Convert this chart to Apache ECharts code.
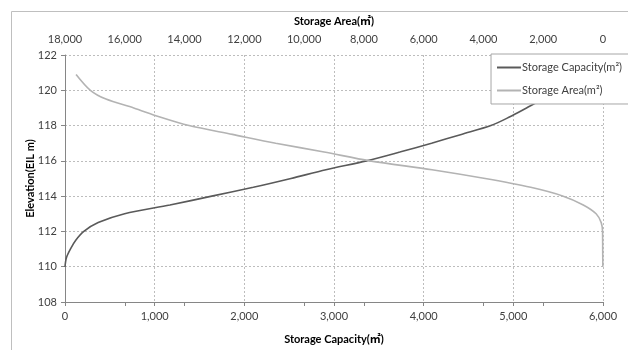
<!DOCTYPE html>
<html>
<head>
<meta charset="utf-8">
<script src="https://cdn.jsdelivr.net/npm/echarts@6/dist/echarts.min.js"></script>
<style>
  html, body { margin: 0; padding: 0; background: #fff; }
  #chart { width: 628px; height: 350px; }
</style>
</head>
<body>
<div id="chart"></div>
<script>
  // elevation (EL m) for each reading
  let capElev = [110, 110.5, 111, 111.5, 112, 112.5, 113, 113.5, 114, 114.5, 115, 115.5, 116, 116.5, 117, 117.5, 118, 118.5, 119, 119.5, 120, 120.5, 121];
  let capacity = [0, 15, 60, 120, 210, 370, 665, 1170, 1637, 2100, 2520, 2910, 3362, 3734, 4088, 4420, 4750, 4962, 5147, 5330, 5500, 5660, 5820];

  let areaElev = [110, 110.5, 111, 111.5, 112, 112.5, 113, 113.5, 114, 114.5, 115, 115.5, 116, 116.5, 117, 117.5, 118, 118.5, 119, 119.5, 120, 120.9];
  let area = [5, 8, 10, 12, 15, 60, 230, 660, 1330, 2420, 3940, 5720, 7800, 9330, 10950, 12400, 13850, 14850, 15700, 16630, 17150, 17630];

  let font = 'Lato, "Noto Sans", "Noto Sans CJK SC", sans-serif';
  let fmt = function (v) { return v.toLocaleString('en-US'); };

  let capData = [];
  for (let i = 0; i < capElev.length; i++) {
    capData.push([capacity[i], capElev[i]]);
  }
  let areaData = [];
  for (let i = 0; i < areaElev.length; i++) {
    areaData.push([area[i], areaElev[i]]);
  }

  let myChart = echarts.init(document.getElementById('chart'));
  myChart.setOption({
    animation: false,
    textStyle: { fontFamily: font },
    graphic: [{
      type: 'rect',
      shape: { x: 11.5, y: 11.5, width: 700, height: 400 },
      style: { fill: 'none', stroke: '#bfbfbf', lineWidth: 1 },
      silent: true,
      z: -1
    }],
    grid: { left: 65, right: 25, top: 55, bottom: 40 },
    legend: {
      orient: 'vertical',
      right: -2,
      top: 54,
      padding: [8, 8, 8, 6],
      itemGap: 12,
      itemWidth: 24,
      itemHeight: 2,
      icon: 'rect',
      backgroundColor: '#fff',
      borderColor: '#a6a6a6',
      borderWidth: 1,
      textStyle: { fontFamily: font, fontSize: 11, color: '#404040', padding: [0, 0, 0, -4] },
      data: ['Storage Capacity(m²)', 'Storage Area(m²)']
    },
    xAxis: [{
      type: 'value',
      position: 'bottom',
      min: 0,
      max: 6000,
      interval: 1000,
      name: 'Storage Capacity(㎡)',
      nameLocation: 'middle',
      nameGap: 32,
      nameMoveOverlap: false,
      nameTextStyle: { fontFamily: font, fontSize: 11, fontWeight: 'bold', color: '#000' },
      axisLine: { show: true, lineStyle: { color: '#868686' } },
      axisTick: { show: true, length: 4, lineStyle: { color: '#868686' } },
      axisLabel: { color: '#404040', fontSize: 11, margin: 9, formatter: fmt },
      splitLine: { show: true, lineStyle: { type: [2, 2], color: '#bdbdbd' } }
    }, {
      type: 'value',
      position: 'top',
      min: 0,
      max: 18000,
      interval: 2000,
      inverse: true,
      name: 'Storage Area(㎡)',
      nameLocation: 'middle',
      nameGap: 28,
      nameMoveOverlap: false,
      nameTextStyle: { fontFamily: font, fontSize: 11, fontWeight: 'bold', color: '#000' },
      axisLine: { show: false },
      axisTick: { show: false },
      axisLabel: { color: '#404040', fontSize: 11, margin: 10, formatter: fmt },
      splitLine: { show: false }
    }, {
      // area scale tick marks that sit on the bottom line
      type: 'value',
      position: 'bottom',
      min: 0,
      max: 18000,
      interval: 2000,
      inverse: true,
      axisLine: { show: false },
      axisTick: { show: true, length: 4, lineStyle: { color: '#868686' } },
      axisLabel: { show: false },
      splitLine: { show: false }
    }],
    yAxis: {
      type: 'value',
      min: 108,
      max: 122,
      interval: 2,
      name: 'Elevation(EIL m)',
      nameLocation: 'middle',
      nameGap: 29,
      nameMoveOverlap: false,
      nameTextStyle: { fontFamily: font, fontSize: 11, fontWeight: 'bold', color: '#000' },
      axisLine: { show: true, lineStyle: { color: '#868686' } },
      axisTick: { show: true, length: 4, lineStyle: { color: '#868686' } },
      axisLabel: { color: '#404040', fontSize: 11, margin: 8 },
      splitLine: { show: true, lineStyle: { type: [2, 2], color: '#bdbdbd' } }
    },
    series: [{
      name: 'Storage Capacity(m²)',
      type: 'line',
      xAxisIndex: 0,
      data: capData,
      smooth: 0.3,
      showSymbol: false,
      color: '#5a5a5a',
      lineStyle: { width: 1.6, color: '#5a5a5a' },
      z: 2
    }, {
      name: 'Storage Area(m²)',
      type: 'line',
      xAxisIndex: 1,
      data: areaData,
      smooth: 0.3,
      showSymbol: false,
      color: '#b3b3b3',
      lineStyle: { width: 1.6, color: '#b3b3b3' },
      z: 2
    }]
  });
</script>
</body>
</html>
